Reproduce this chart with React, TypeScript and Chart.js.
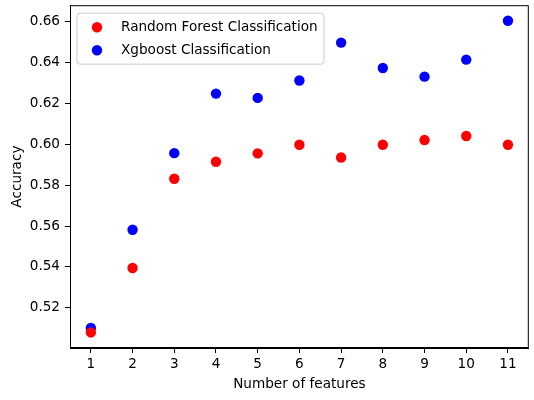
import React, { useEffect, useRef } from "react";
import { Chart, registerables } from "chart.js";

Chart.register(...registerables);

const features = [1, 2, 3, 4, 5, 6, 7, 8, 9, 10, 11];
const randomForest = [0.508, 0.5395, 0.5831, 0.5914, 0.5955, 0.5997, 0.5935, 0.5997, 0.602, 0.604, 0.5997];
const xgboost = [0.5102, 0.5582, 0.5956, 0.6247, 0.6226, 0.6311, 0.6496, 0.6372, 0.633, 0.6413, 0.6603];
const yTicks = [0.52, 0.54, 0.56, 0.58, 0.6, 0.62, 0.64, 0.66];
const seriesLabels = ["Random Forest Classification", "Xgboost Classification"];
const seriesColors = ["#ff0000", "#0000ff"];

const FONT = "DejaVu Sans";
const PR = 5.2;

const framePlugin = {
  id: "frame",
  afterDraw(chart: any) {
    const { ctx, chartArea } = chart;
    const { left, top, right, bottom } = chartArea;
    ctx.save();
    ctx.strokeStyle = "#000";
    ctx.lineWidth = 1;
    ctx.strokeRect(left + 0.5, top + 0.5, right - left - 1, bottom - top - 1);

    // legend
    const lx = left + 7;
    const ly = top + 8;
    const lw = 247;
    const lh = 51;
    const r = 3;
    ctx.beginPath();
    ctx.moveTo(lx + r, ly);
    ctx.lineTo(lx + lw - r, ly);
    ctx.arcTo(lx + lw, ly, lx + lw, ly + r, r);
    ctx.lineTo(lx + lw, ly + lh - r);
    ctx.arcTo(lx + lw, ly + lh, lx + lw - r, ly + lh, r);
    ctx.lineTo(lx + r, ly + lh);
    ctx.arcTo(lx, ly + lh, lx, ly + lh - r, r);
    ctx.lineTo(lx, ly + r);
    ctx.arcTo(lx, ly, lx + r, ly, r);
    ctx.closePath();
    ctx.fillStyle = "rgba(255,255,255,0.8)";
    ctx.fill();
    ctx.strokeStyle = "#cccccc";
    ctx.lineWidth = 1;
    ctx.stroke();

    chart.data.datasets.forEach((ds: any, i: number) => {
      const cy = ly + 14 + i * 23;
      ctx.beginPath();
      ctx.fillStyle = ds.backgroundColor;
      ctx.arc(lx + 20, cy, PR, 0, Math.PI * 2);
      ctx.fill();
      ctx.fillStyle = "#000";
      ctx.font = `13.6px "${FONT}"`;
      ctx.textBaseline = "middle";
      ctx.textAlign = "left";
      ctx.fillText(ds.label, lx + 44, cy);
    });
    ctx.restore();
  },
};

export default function App() {
  const ref = useRef<HTMLCanvasElement>(null);
  useEffect(() => {
    if (!ref.current) return;
    const chart = new Chart(ref.current, {
      type: "scatter",
      data: {
        datasets: [
          {
            label: seriesLabels[0],
            data: features.map((f, i) => ({ x: f, y: randomForest[i] })),
            backgroundColor: seriesColors[0],
            borderWidth: 0,
            pointRadius: PR,
          },
          {
            label: seriesLabels[1],
            data: features.map((f, i) => ({ x: f, y: xgboost[i] })),
            backgroundColor: seriesColors[1],
            borderWidth: 0,
            pointRadius: PR,
          },
        ],
      },
      plugins: [framePlugin],
      options: {
        animation: false,
        responsive: false,
        layout: { padding: { top: 5, right: 5, left: 0, bottom: 0 } },
        plugins: { legend: { display: false }, tooltip: { enabled: false } },
        scales: {
          x: {
            type: "linear",
            min: 0.5,
            max: 11.5,
            afterBuildTicks: (s: any) => {
              s.ticks = features.map((v) => ({ value: v }));
            },
            afterFit: (s: any) => {
              s.height = 52;
              s.paddingLeft = 0;
              s.paddingRight = 0;
            },
            grid: { drawOnChartArea: false, drawTicks: true, tickLength: 5, color: "#000", tickWidth: 1 },
            border: { display: true, color: "#000", width: 1 },
            ticks: {
              color: "#000",
              font: { family: FONT, size: 13.6 },
              padding: 3,
              maxRotation: 0,
              autoSkip: false,
              callback: (v: any) => String(v),
            },
            title: {
              display: true,
              text: "Number of features",
              color: "#000",
              font: { family: FONT, size: 13.6 },
              padding: { top: 0, bottom: 7 },
            },
          },
          y: {
            type: "linear",
            min: 0.5004,
            max: 0.6679,
            afterBuildTicks: (s: any) => {
              s.ticks = yTicks.map((v) => ({ value: v }));
            },
            afterFit: (s: any) => {
              s.width = 70;
              s.paddingTop = 0;
              s.paddingBottom = 0;
            },
            grid: { drawOnChartArea: false, drawTicks: true, tickLength: 5, color: "#000", tickWidth: 1 },
            border: { display: true, color: "#000", width: 1 },
            ticks: {
              color: "#000",
              font: { family: FONT, size: 13.6 },
              padding: 5,
              autoSkip: false,
              callback: (v: any) => Number(v).toFixed(2),
            },
            title: {
              display: true,
              text: "Accuracy",
              color: "#000",
              font: { family: FONT, size: 13.6 },
              padding: { top: 9, bottom: 0 },
            },
          },
        },
      },
    });
    return () => chart.destroy();
  }, []);
  return (
    <div style={{ position: "fixed", left: 0, top: 0, width: 534, height: 400, background: "#fff" }}>
      <canvas ref={ref} width={534} height={400} style={{ width: 534, height: 400 }} />
    </div>
  );
}
